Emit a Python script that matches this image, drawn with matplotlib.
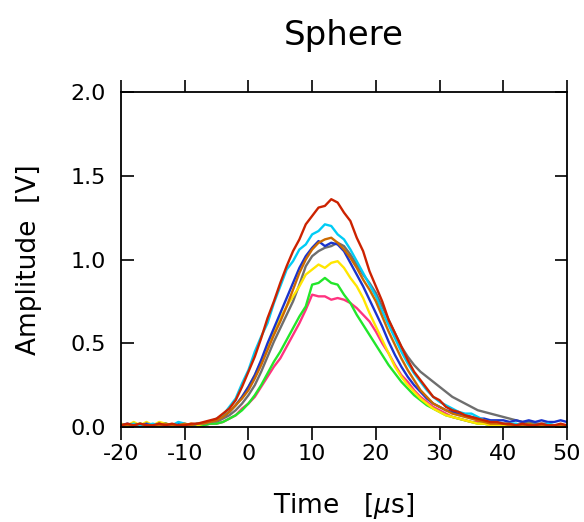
import numpy as np
import matplotlib
matplotlib.use("Agg")
import matplotlib.pyplot as plt

plt.rcParams['font.family'] = ['DejaVu Sans']
plt.rcParams['axes.unicode_minus'] = False

time_us = list(range(-20, 51))

red = [0.01, 0.02, 0.01, 0.02, 0.01, 0.01, 0.02, 0.01, 0.02, 0.01, 0.01, 0.02, 0.02, 0.03, 0.04,
       0.05, 0.08, 0.11, 0.16, 0.24, 0.33, 0.42, 0.53, 0.65, 0.75, 0.86, 0.96, 1.05, 1.12, 1.21,
       1.26, 1.31, 1.32, 1.36, 1.34, 1.28, 1.23, 1.13, 1.05, 0.93, 0.84, 0.75, 0.64, 0.56, 0.48,
       0.40, 0.33, 0.28, 0.23, 0.18, 0.16, 0.12, 0.10, 0.09, 0.07, 0.06, 0.05, 0.04, 0.03, 0.03,
       0.02, 0.02, 0.01, 0.02, 0.01, 0.01, 0.02, 0.01, 0.01, 0.02, 0.01]
cyan = [0.01, 0.01, 0.02, 0.01, 0.01, 0.02, 0.01, 0.02, 0.01, 0.03, 0.02, 0.01, 0.02, 0.02, 0.03,
        0.05, 0.07, 0.12, 0.17, 0.26, 0.34, 0.45, 0.54, 0.62, 0.74, 0.84, 0.94, 0.99, 1.06, 1.09,
        1.15, 1.17, 1.21, 1.20, 1.15, 1.12, 1.06, 0.99, 0.92, 0.85, 0.78, 0.69, 0.61, 0.53, 0.45,
        0.38, 0.32, 0.27, 0.22, 0.18, 0.15, 0.13, 0.11, 0.09, 0.08, 0.08, 0.06, 0.04, 0.03, 0.03,
        0.02, 0.02, 0.02, 0.01, 0.02, 0.01, 0.01, 0.02, 0.01, 0.01, 0.01]
orange = [0.01, 0.01, 0.01, 0.02, 0.01, 0.01, 0.01, 0.02, 0.01, 0.01, 0.02, 0.01, 0.02, 0.02, 0.03,
          0.04, 0.06, 0.09, 0.13, 0.17, 0.22, 0.29, 0.37, 0.46, 0.55, 0.63, 0.72, 0.82, 0.92, 1.00,
          1.06, 1.10, 1.12, 1.13, 1.10, 1.06, 1.01, 0.95, 0.88, 0.82, 0.75, 0.66, 0.57, 0.49, 0.41,
          0.34, 0.28, 0.22, 0.18, 0.14, 0.12, 0.10, 0.08, 0.07, 0.06, 0.05, 0.04, 0.03, 0.02, 0.02,
          0.02, 0.01, 0.01, 0.01, 0.02, 0.01, 0.01, 0.01, 0.01, 0.01, 0.01]
blue = [0.01, 0.02, 0.01, 0.01, 0.02, 0.01, 0.02, 0.01, 0.01, 0.02, 0.01, 0.01, 0.02, 0.02, 0.03,
        0.04, 0.06, 0.09, 0.13, 0.18, 0.24, 0.31, 0.40, 0.50, 0.59, 0.68, 0.77, 0.86, 0.95, 1.02,
        1.07, 1.11, 1.08, 1.10, 1.09, 1.05, 0.98, 0.91, 0.84, 0.76, 0.68, 0.60, 0.51, 0.43, 0.36,
        0.30, 0.25, 0.21, 0.17, 0.14, 0.12, 0.10, 0.09, 0.08, 0.07, 0.06, 0.05, 0.05, 0.04, 0.04,
        0.04, 0.03, 0.04, 0.03, 0.04, 0.03, 0.04, 0.03, 0.03, 0.04, 0.03]
gray = [0.01, 0.01, 0.01, 0.01, 0.01, 0.01, 0.01, 0.01, 0.01, 0.01, 0.01, 0.01, 0.01, 0.02, 0.02,
        0.03, 0.05, 0.07, 0.10, 0.14, 0.19, 0.25, 0.33, 0.42, 0.51, 0.59, 0.67, 0.75, 0.85, 0.96,
        1.02, 1.05, 1.07, 1.08, 1.10, 1.08, 1.03, 0.97, 0.91, 0.86, 0.80, 0.72, 0.64, 0.56, 0.48,
        0.42, 0.37, 0.33, 0.30, 0.27, 0.24, 0.21, 0.18, 0.16, 0.14, 0.12, 0.10, 0.09, 0.08, 0.07,
        0.06, 0.05, 0.04, 0.03, 0.03, 0.02, 0.02, 0.02, 0.01, 0.01, 0.01]
yellow = [0.02, 0.01, 0.03, 0.01, 0.03, 0.01, 0.03, 0.02, 0.01, 0.02, 0.01, 0.02, 0.01, 0.02, 0.03,
          0.04, 0.06, 0.09, 0.13, 0.18, 0.24, 0.31, 0.39, 0.48, 0.57, 0.65, 0.72, 0.78, 0.84, 0.91,
          0.94, 0.97, 0.95, 0.98, 0.99, 0.95, 0.89, 0.84, 0.77, 0.68, 0.60, 0.52, 0.44, 0.36, 0.30,
          0.25, 0.21, 0.17, 0.14, 0.11, 0.09, 0.07, 0.06, 0.05, 0.04, 0.03, 0.02, 0.02, 0.01, 0.01,
          0.01, 0.01, 0.00, 0.01, 0.01, 0.01, 0.00, 0.01, 0.01, 0.01, 0.01]
green = [0.01, 0.01, 0.01, 0.02, 0.01, 0.01, 0.01, 0.02, 0.01, 0.01, 0.01, 0.01, 0.01, 0.01, 0.02,
         0.02, 0.03, 0.05, 0.07, 0.10, 0.14, 0.19, 0.25, 0.32, 0.39, 0.45, 0.52, 0.59, 0.66, 0.72,
         0.85, 0.86, 0.89, 0.86, 0.85, 0.79, 0.74, 0.67, 0.61, 0.55, 0.49, 0.43, 0.37, 0.32, 0.27,
         0.23, 0.19, 0.16, 0.13, 0.11, 0.09, 0.07, 0.06, 0.05, 0.04, 0.03, 0.02, 0.02, 0.01, 0.01,
         0.01, 0.01, 0.01, 0.01, 0.01, 0.01, 0.01, 0.01, 0.01, 0.01, 0.01]
pink = [0.01, 0.01, 0.01, 0.01, 0.02, 0.01, 0.01, 0.01, 0.01, 0.01, 0.01, 0.01, 0.01, 0.01, 0.02,
        0.02, 0.03, 0.05, 0.07, 0.11, 0.14, 0.18, 0.24, 0.30, 0.36, 0.41, 0.48, 0.55, 0.62, 0.70,
        0.79, 0.78, 0.78, 0.76, 0.77, 0.76, 0.74, 0.71, 0.67, 0.63, 0.57, 0.50, 0.44, 0.37, 0.31,
        0.27, 0.22, 0.18, 0.15, 0.12, 0.10, 0.08, 0.06, 0.05, 0.04, 0.03, 0.03, 0.02, 0.02, 0.01,
        0.01, 0.01, 0.01, 0.01, 0.01, 0.01, 0.01, 0.01, 0.01, 0.01, 0.01]

series = [
    (gray, '#6e6e6e'),
    (pink, '#ff3380'),
    (green, '#22e62a'),
    (yellow, '#ffe600'),
    (blue, '#1a33cc'),
    (cyan, '#00ccf5'),
    (orange, '#cc6a00'),
    (red, '#cc2200'),
]

x_ticks = [-20, -10, 0, 10, 20, 30, 40, 50]
y_ticks = [0.0, 0.5, 1.0, 1.5, 2.0]

fig = plt.figure(figsize=(5.84, 5.22), dpi=100)
ax = fig.add_axes([121/584, 95/522, (567-121)/584, (427-92)/522])

for vals, col in series:
    ax.plot(time_us, vals, color=col, lw=1.7)

ax.set_xlim(-20, 50)
ax.set_ylim(0, 2.0)
ax.set_xticks(x_ticks)
ax.set_xticklabels([str(t) for t in x_ticks])
ax.set_yticks(y_ticks)
ax.set_yticklabels([f"{t:.1f}" for t in y_ticks])

ax.tick_params(axis='x', direction='out', top=True, length=9, width=1.2,
               labelsize=16, pad=3)
ax.tick_params(axis='y', direction='in', right=True, length=9, width=1.2,
               labelsize=16, pad=11)
for s in ax.spines.values():
    s.set_linewidth(1.3)

ax.set_xlabel('Time   [$\\mu$s]', fontsize=19, labelpad=20)
ax.set_ylabel('Amplitude  [V]', fontsize=19, labelpad=20)
ax.set_title('Sphere', fontsize=24.5, pad=34)

fig.savefig('out.png', dpi=100)
